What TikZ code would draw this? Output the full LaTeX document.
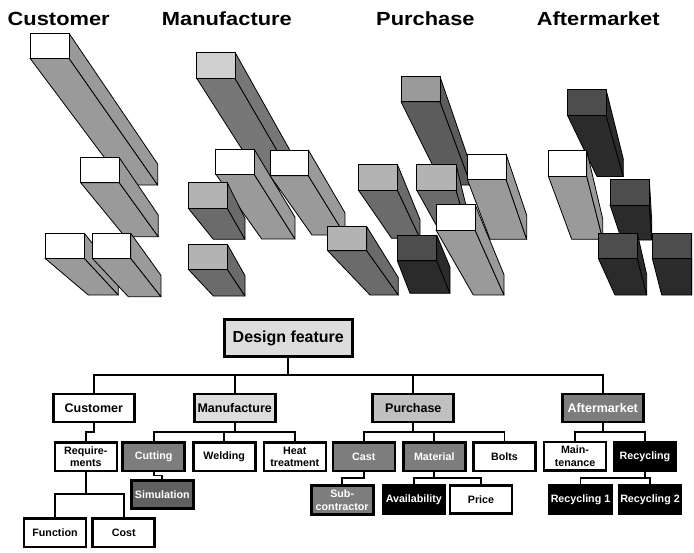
\documentclass[tikz,border=0pt]{standalone}
\usepackage{fontspec}
\usepackage{graphicx}
\setmainfont{Liberation Sans}
\definecolor{sideA}{HTML}{9A9A9A}
\definecolor{sideB}{HTML}{777777}
\definecolor{topB}{HTML}{CFCFCF}
\definecolor{sideC}{HTML}{6B6B6B}
\definecolor{topC}{HTML}{B3B3B3}
\definecolor{sideD}{HTML}{5C5C5C}
\definecolor{topD}{HTML}{9A9A9A}
\definecolor{sideE}{HTML}{2B2B2B}
\definecolor{topE}{HTML}{4D4D4D}
\definecolor{boxlight}{HTML}{DDDDDD}
\definecolor{boxmid}{HTML}{C0C0C0}
\definecolor{boxgray}{HTML}{7D7D7D}
\definecolor{boxdark}{HTML}{606060}
\newcommand\mybar[9]{%
  \pgfmathsetmacro\hh{(#4-#2)*(#6-#5)/(#3-#1)}%
  \pgfmathsetmacro\yy{#7-\hh}%
  \filldraw[fill=#9, bardraw] (#1,#4) -- (#3,#4) -- (#6,#7) -- (#5,#7) -- cycle;
  \filldraw[fill=#9, bardraw] (#3,#2) -- (#6,\yy) -- (#6,#7) -- (#3,#4) -- cycle;
  \filldraw[fill=#8, bardraw] (#1,#2) rectangle (#3,#4);
}
\tikzset{
  bardraw/.style={draw=black, line width=0.8pt, line join=round},
  ttl/.style={anchor=base west, inner sep=0pt},
  conn/.style={line width=1.7pt},
  lvroot/.style={draw, line width=2.7pt, fill=boxlight, minimum width=128pt, minimum height=37pt, inner sep=0pt, font=\fontsize{16}{18}\selectfont\bfseries},
  lvone/.style={draw, line width=2.8pt, minimum width=81pt, minimum height=28pt, inner sep=0pt, font=\fontsize{12.5}{14}\selectfont\bfseries},
  lvtwo/.style={draw, line width=2.6pt, minimum width=62pt, minimum height=28.5pt, inner sep=0pt, align=center, font=\fontsize{10.7}{12.5}\selectfont\bfseries},
  lvthree/.style={lvtwo, minimum height=28.5pt},
  wt/.style={text=white}
}
\begin{document}
\begin{tikzpicture}[x=1pt,y=-1pt]
\useasboundingbox (0,0) rectangle (694,552);
% titles
\node[ttl] (t1) at (7.5,25) {\scalebox{1.15}[1]{\fontsize{19}{19}\selectfont\bfseries Customer}};
\node[ttl] (t2) at (161.7,25) {\scalebox{1.15}[1]{\fontsize{19}{19}\selectfont\bfseries Manufacture}};
\node[ttl] (t3) at (376,25) {\scalebox{1.15}[1]{\fontsize{19}{19}\selectfont\bfseries Purchase}};
\node[ttl] (t4) at (536.7,25) {\scalebox{1.15}[1]{\fontsize{19}{19}\selectfont\bfseries Aftermarket}};
% Customer bars
\mybar{30}{33.3}{69}{58.3}{125}{157.7}{185}{white}{sideA}
\mybar{80.7}{157.7}{119.3}{182.7}{125}{158.3}{236.7}{white}{sideA}
\mybar{45}{233.3}{84.3}{258.3}{88.3}{118.3}{295}{white}{sideA}
\mybar{92.3}{233.3}{130.7}{258.3}{128.3}{161}{296.7}{white}{sideA}
% Manufacture bars
\mybar{196.7}{52.3}{235}{78.3}{268}{300}{190}{topB}{sideB}
\mybar{215.7}{149}{254}{174}{261.7}{295}{239}{white}{sideA}
\mybar{270}{150}{308.3}{175.7}{312}{345}{235}{white}{sideA}
\mybar{188.3}{182.7}{227.3}{208.3}{213.3}{245}{239.3}{topC}{sideC}
\mybar{188.3}{244.3}{227.3}{269.3}{213.3}{245}{296}{topC}{sideC}
% Purchase bars
\mybar{401}{76.7}{440}{101.7}{442.4}{471}{185}{topD}{sideD}
\mybar{467.3}{154}{506}{179.3}{490}{526.7}{239.3}{white}{sideA}
\mybar{358.3}{164.3}{397.3}{190}{391.7}{420}{238.3}{topC}{sideC}
\mybar{416.7}{164.3}{456}{190}{440}{468}{232}{topC}{sideC}
\mybar{436}{204.3}{475}{230}{473.3}{504}{295}{white}{sideA}
\mybar{327.7}{226.7}{366.7}{250.7}{370}{398.3}{295}{topC}{sideC}
\mybar{397.3}{235}{436.7}{260.7}{410}{450}{293.3}{topE}{sideE}
% Aftermarket bars
\mybar{567.3}{89.3}{606}{115}{597}{623.3}{176.5}{topE}{sideE}
\mybar{548.3}{150.7}{586.7}{176}{571.7}{602.7}{239.3}{white}{sideA}
\mybar{610}{179.3}{649.3}{205}{621.7}{651.7}{240}{topE}{sideE}
\mybar{598.3}{233.3}{637.3}{258.3}{615}{646.7}{295}{topE}{sideE}
\mybar{652.3}{233.3}{691.7}{258.3}{661.7}{691.7}{295}{topE}{sideE}
% tree nodes
\node[lvroot] (df) at (288.3,338.3) {Design feature};
\node[lvone, fill=white] (cust) at (93.8,408) {Customer};
\node[lvone, fill=boxlight] (manu) at (234.7,408) {Manufacture};
\node[lvone, fill=boxmid] (purch) at (413.3,408) {Purchase};
\node[lvone, fill=boxgray, wt] (after) at (602.8,408) {Aftermarket};
\node[lvtwo, fill=white] (req) at (85.8,456.7) {Require-\\ments};
\node[lvtwo, fill=boxgray, wt] (cut) at (153.7,456.7) {Cutting};
\node[lvtwo, fill=white] (weld) at (224.2,456.7) {Welding};
\node[lvtwo, fill=white] (heat) at (294.8,456.7) {Heat\\treatment};
\node[lvtwo, fill=boxgray, wt] (cast) at (363.8,456.7) {Cast};
\node[lvtwo, fill=boxgray, wt] (mat) at (434.3,456.7) {Material};
\node[lvtwo, fill=white] (bolts) at (504.5,456.7) {Bolts};
\node[lvtwo, fill=white] (maint) at (575,456.4) {Main-\\tenance};
\node[lvtwo, fill=black, wt] (recyc) at (645,456.7) {Recycling};
\node[lvthree, fill=boxdark, wt] (sim) at (162.3,494.5) {Simulation};
\node[lvthree, fill=white] (func) at (55,532.8) {Function};
\node[lvthree, fill=white] (cost) at (123.7,532.8) {Cost};
\node[lvthree, fill=boxgray, wt] (sub) at (342.2,500) {Sub-\\contractor};
\node[lvthree, fill=black, wt] (avail) at (413.8,499.5) {Availability};
\node[lvthree, fill=white] (price) at (481,499.5) {Price};
\node[lvthree, fill=black, wt] (rec1) at (580.5,499.5) {Recycling 1};
\node[lvthree, fill=black, wt] (rec2) at (650,499.5) {Recycling 2};
% connectors
\draw[conn] (df.south) -- (df.south |- 0,375);
\draw[conn] (cust.north) |- (after.north |- 0,375) -- (after.north);
\draw[conn] (manu.north) -- (manu.north |- 0,375);
\draw[conn] (purch.north) -- (purch.north |- 0,375);
\draw[conn] (cust.south) -- (cust.south |- 0,431.7) -| (req.north);
\draw[conn] (manu.south) -- (manu.south |- 0,432.3);
\draw[conn] (cut.north) |- (heat.north |- 0,432.3) -- (heat.north);
\draw[conn] (weld.north) -- (weld.north |- 0,432.3);
\draw[conn] (purch.south) -- (purch.south |- 0,432.3);
\draw[conn] (cast.north) |- (bolts.north |- 0,432.3) -- (bolts.north);
\draw[conn] (mat.north) -- (mat.north |- 0,432.3);
\draw[conn] (after.south) -- (after.south |- 0,432.3);
\draw[conn] (maint.north) |- (recyc.north |- 0,432.3) -- (recyc.north);
\draw[conn] (cut.south) -- (cut.south |- 0,475.5) -| (sim.north);
\draw[conn] (req.south) -- (req.south |- 0,494.3);
\draw[conn] (func.north) |- (cost.north |- 0,494.3) -- (cost.north);
\draw[conn] (cast.south) -- (cast.south |- 0,478.3) -| (sub.north);
\draw[conn] (mat.south) -- (mat.south |- 0,478.3);
\draw[conn] (avail.north) |- (price.north |- 0,478.3) -- (price.north);
\draw[conn] (recyc.south) -- (recyc.south |- 0,478.3);
\draw[conn] (rec1.north) |- (rec2.north |- 0,478.3) -- (rec2.north);
\end{tikzpicture}
\end{document}
